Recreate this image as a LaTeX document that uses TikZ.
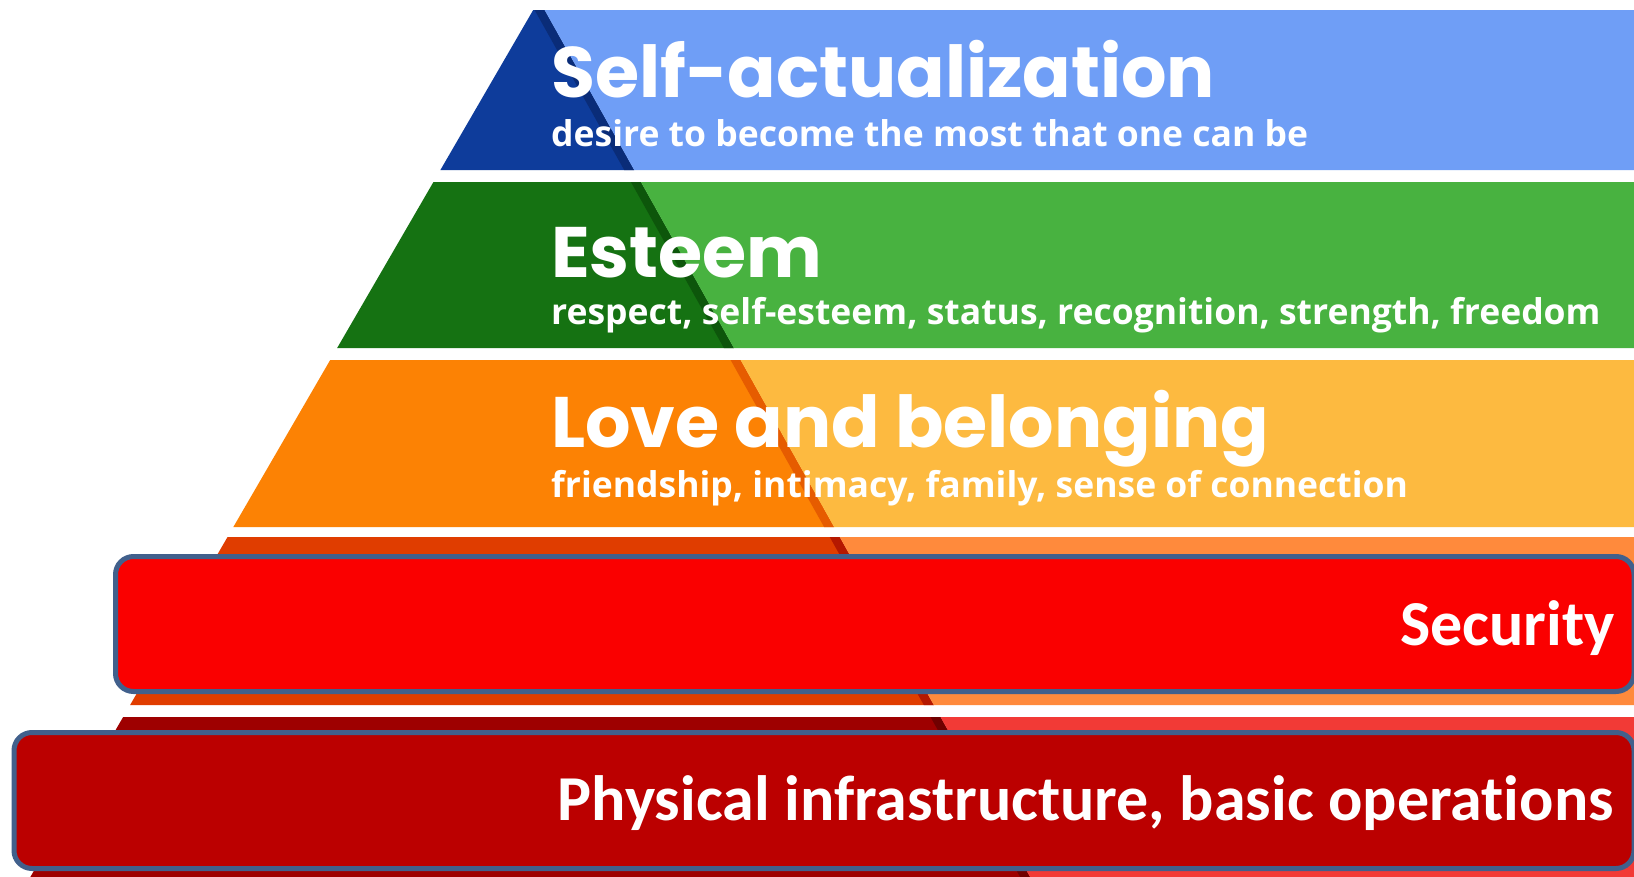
\documentclass[tikz,border=0pt]{standalone}
\usepackage{fontspec}
\newfontfamily\headfont{Poppins}
\newfontfamily\subfont{Open Sans}
\newfontfamily\boxfont[Ligatures=NoCommon]{Carlito}
\definecolor{blueDk}{HTML}{0E3C9B}
\definecolor{blueSt}{HTML}{0A2C78}
\definecolor{blueLt}{HTML}{6F9EF6}
\definecolor{greenDk}{HTML}{157212}
\definecolor{greenSt}{HTML}{0D560B}
\definecolor{greenLt}{HTML}{48B240}
\definecolor{orangeDk}{HTML}{FC8204}
\definecolor{orangeSt}{HTML}{E65C00}
\definecolor{orangeLt}{HTML}{FDBA40}
\definecolor{rustDk}{HTML}{E03D00}
\definecolor{rustSt}{HTML}{B51800}
\definecolor{rustLt}{HTML}{FF8A3C}
\definecolor{redDk}{HTML}{9E0000}
\definecolor{redSt}{HTML}{700000}
\definecolor{redLt}{HTML}{F23A36}
\definecolor{secRed}{HTML}{FA0000}
\definecolor{physRed}{HTML}{BB0000}
\definecolor{boxLine}{HTML}{41608C}
\newcommand*{\apx }{539}
\newcommand*{\lsl }{0.58}
\newcommand*{\rsl }{0.56}
\newcommand*{\wide}{1634}
\newcommand*{\high}{876}
\newcommand*{\stw }{10}
% one tier: #1 top, #2 bottom, #3 dark face, #4 edge, #5 light face
\newcommand*{\tier}[5]{%
    \fill [#3] ({\apx-\lsl*#1},#1) -- ({\apx+\rsl*#1},#1) -- ({\apx+\rsl*#2},#2) -- ({\apx-\lsl*#2},#2) -- cycle;
    \fill [#4] ({\apx+\rsl*#1-\stw},#1) -- ({\apx+\rsl*#1},#1) -- ({\apx+\rsl*#2},#2) -- ({\apx+\rsl*#2-\stw},#2) -- cycle;
    \fill [#5] ({\apx+\rsl*#1},#1) -- (\wide,#1) -- (\wide,#2) -- ({\apx+\rsl*#2},#2) -- cycle;
}

\begin{document}
\begin{tikzpicture}[x=1pt, y=-1pt,
    headtext/.style={text=white, inner sep=0pt, anchor=base west, font=\headfont\bfseries\fontsize{71.5}{72}\selectfont},
    subtext/.style={text=white, inner sep=0pt, anchor=base west, font=\subfont\bfseries\fontsize{35.5}{36}\selectfont},
    boxtext/.style={text=white, inner sep=0pt, anchor=base east, font=\boxfont\bfseries\fontsize{64}{64}\selectfont},
    tierbox/.style={draw=boxLine, line width=5pt, rounded corners=18pt}]
        \clip (0,0) rectangle (\wide,\high);
        \fill [white] (0,0) rectangle (\wide,\high);
        \tier{10}{170}{blueDk}{blueSt}{blueLt}
        \tier{182}{348}{greenDk}{greenSt}{greenLt}
        \tier{360}{527}{orangeDk}{orangeSt}{orangeLt}
        \tier{537}{705}{rustDk}{rustSt}{rustLt}
        \tier{717}{880}{redDk}{redSt}{redLt}
        \node [headtext] (selfact) at (551,97)  {Self-actualization};
        \node [subtext]  (selfsub) at (551,146) {desire to become the most that one can be};
        \node [headtext] (esteem)  at (551,277) {Esteem};
        \node [subtext]  (estsub)  at (551,324) {respect, self-esteem, status, recognition, strength, freedom};
        \node [headtext] (love)    at (551,447) {Love and belonging};
        \node [subtext]  (lovesub) at (551,497) {friendship, intimacy, family, sense of connection};
        \draw [tierbox, fill=secRed]  (115.5,556.5) rectangle (1634,691.5);
        \draw [tierbox, fill=physRed] (14,732.5) rectangle (1634,868.5);
        \node [boxtext] (security) at (1615,645) {Security};
        \node [boxtext] (physical) at (1614,820) {Physical infrastructure, basic operations};
    \end{tikzpicture}
\end{document}
